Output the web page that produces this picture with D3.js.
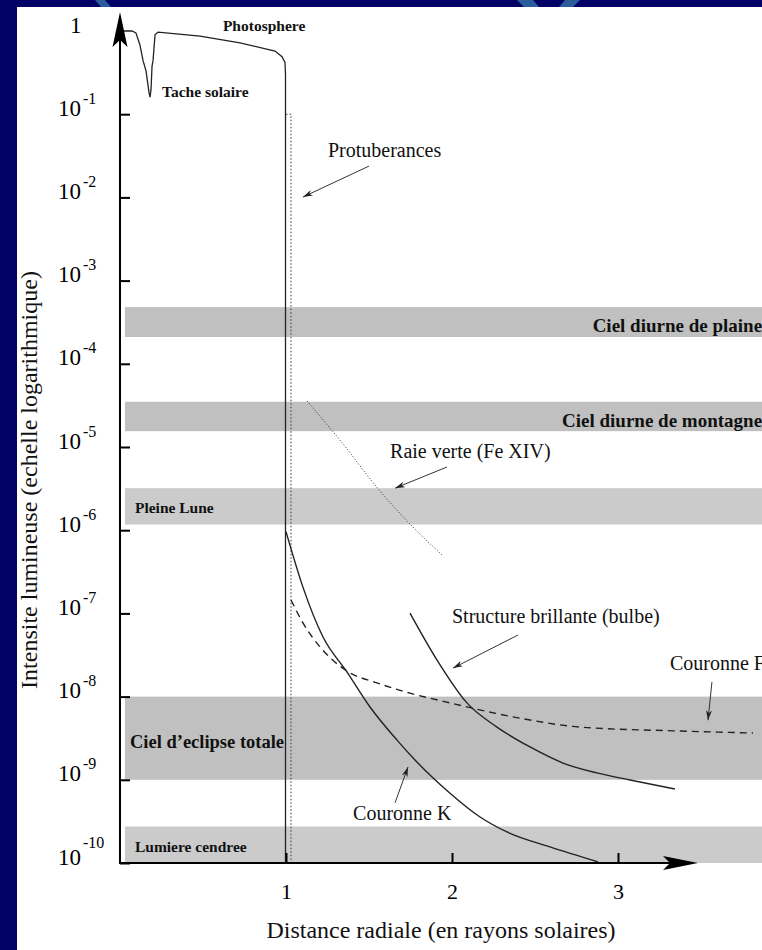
<!DOCTYPE html>
<html>
<head>
<meta charset="utf-8">
<script src="https://cdn.jsdelivr.net/npm/d3@7"></script>
<style>
  body { margin: 0; background: #020266; }
  svg { display: block; }
  text { font-family: "Liberation Serif", "Times New Roman", serif; }
</style>
</head>
<body>
<div id="container"></div>
<script>
/* CONSTANTS AND GLOBALS */
const width = 762,
  height = 950;

/* DATA : x en rayons solaires, y en intensite relative */
const photosphere = [[0, 1], [0.072, 1], [0.096, 0.95], [0.12, 0.68], [0.139, 0.44], [0.157, 0.33],
  [0.175, 0.18], [0.181, 0.16], [0.187, 0.2], [0.193, 0.38], [0.199, 0.44], [0.211, 0.9],
  [0.229, 0.97], [0.482, 0.87], [0.723, 0.72], [0.934, 0.575], [0.976, 0.49], [0.994, 0.42],
  [0.997, 0.3], [0.997, 1e-10]];
const protuberances = [[1.0, 0.1], [1.03, 0.1], [1.03, 1e-10]];
const raieVerte = [[1.127, 3.57e-5], [1.325, 1.21e-5], [1.566, 2.96e-6], [1.765, 1.09e-6], [1.94, 5.04e-7]];
const couronneK = [[1.0, 9.6e-7], [1.102, 2.07e-7], [1.223, 5.2e-8], [1.367, 1.98e-8], [1.506, 7.5e-9],
  [1.669, 3.0e-9], [1.777, 1.73e-9], [1.988, 6.9e-10], [2.169, 3.57e-10], [2.331, 2.36e-10],
  [2.59, 1.56e-10], [2.88, 1.03e-10]];
const couronneF = [[1.03, 1.45e-7], [1.102, 7.7e-8], [1.205, 3.95e-8], [1.367, 2.03e-8], [1.548, 1.46e-8],
  [1.747, 1.1e-8], [1.988, 8.4e-9], [2.41, 5.5e-9], [2.771, 4.3e-9], [3.373, 3.86e-9], [3.813, 3.65e-9]];
const bulbe = [[1.747, 1.01e-7], [1.91, 2.75e-8], [2.09, 8.4e-9], [2.271, 4.3e-9], [2.47, 2.48e-9],
  [2.669, 1.59e-9], [2.873, 1.21e-9], [3.072, 9.95e-10], [3.343, 7.75e-10]];

const bandNames = ['Ciel diurne de plaine', 'Ciel diurne de montagne', 'Pleine Lune', 'Ciel d\u2019eclipse totale', 'Lumiere cendree'];
const bandLow = [2.1e-4, 1.55e-5, 1.17e-6, 1e-9, 1e-10];
const bandHigh = [4.8e-4, 3.5e-5, 3.2e-6, 1e-8, 2.75e-10];
const bandLabelY = [2.41e-4, 1.74e-5, 1.61e-6, 2.41e-9, 1.36e-10];
const bandStart = 0.03, bandEnd = 3.95;

const yTicks = [1, 1e-1, 1e-2, 1e-3, 1e-4, 1e-5, 1e-6, 1e-7, 1e-8, 1e-9, 1e-10];
const xTicks = [1, 2, 3];

const notes = [
  { text: 'Protuberances', at: [1.253, 0.0306], from: [1.5, 0.0238], to: [1.102, 0.0101] },
  { text: 'Raie verte (Fe XIV)', at: [1.627, 7.4e-6], from: [1.97, 5.75e-6], to: [1.657, 3.2e-6] },
  { text: 'Structure brillante (bulbe)', at: [2.0, 7.7e-8], from: [2.398, 5.5e-8], to: [2.006, 2.2e-8] },
  { text: 'Couronne F', at: [3.313, 2.09e-8], from: [3.566, 1.5e-8], to: [3.542, 5.2e-9] },
  { text: 'Couronne K', at: [1.404, 3.3e-10], from: [1.657, 5.3e-10], to: [1.735, 1.43e-9] }
];
const boldNotes = [
  { text: 'Photosphere', at: [0.62, 0.99] },
  { text: 'Tache solaire', at: [0.253, 0.161] }
];

// SCALES
const x = d3.scaleLinear().domain([0, 3]).range([120, 618]);
const y = d3.scaleLog().domain([1e-10, 1]).range([863, 31]);

// CREATE SVG ELEMENT
const svg = d3.select('#container').append('svg')
  .attr('width', width)
  .attr('height', height);

// slide background
svg.append('rect').attr('width', width).attr('height', height).attr('fill', '#020266');
svg.append('path').attr('d', 'M95,0L105,0L112,8L102,8Z').attr('fill', '#2a5c9c');
svg.append('path').attr('d', 'M517,0L533,0L540,8L525,8Z').attr('fill', '#2a5c9c');
svg.append('path').attr('d', 'M565,0L580,0L572,8L558,8Z').attr('fill', '#2a5c9c');
svg.append('rect').attr('x', 17).attr('y', 7).attr('width', width - 17).attr('height', height - 7).attr('fill', '#fff');

// BANDS
const bandShade = ['#c0c0c0', '#c0c0c0', '#cbcbcb', '#c0c0c0', '#cbcbcb'];
const bandFont = [19, 19, 15.5, 18.5, 15.5];
svg.selectAll('.band')
  .data(bandNames)
  .join('rect')
  .attr('class', 'band')
  .attr('x', x(bandStart))
  .attr('width', x(bandEnd) - x(bandStart))
  .attr('y', (d, i) => y(bandHigh[i]))
  .attr('height', (d, i) => y(bandLow[i]) - y(bandHigh[i]))
  .attr('fill', (d, i) => bandShade[i]);

svg.selectAll('.bandLabel')
  .data(bandNames)
  .join('text')
  .attr('class', 'bandLabel')
  .attr('x', (d, i) => i < 2 ? x(3.868) : x(i === 3 ? 0.06 : 0.09))
  .attr('y', (d, i) => y(bandLabelY[i]))
  .attr('text-anchor', (d, i) => i < 2 ? 'end' : 'start')
  .attr('font-weight', 'bold')
  .attr('font-size', (d, i) => bandFont[i])
  .attr('fill', '#111')
  .text(d => d);

// LINES
const line = d3.line().x(d => x(d[0])).y(d => y(d[1]));
const smooth = d3.line().x(d => x(d[0])).y(d => y(d[1])).curve(d3.curveMonotoneX);

svg.append('path').attr('d', line(photosphere))
  .attr('fill', 'none').attr('stroke', '#222').attr('stroke-width', 1.3);
svg.append('path').attr('d', line(protuberances))
  .attr('fill', 'none').attr('stroke', '#444').attr('stroke-width', 1.1).attr('stroke-dasharray', '1.5,2');
svg.append('path').attr('d', smooth(raieVerte))
  .attr('fill', 'none').attr('stroke', '#333').attr('stroke-width', 1).attr('stroke-dasharray', '1,2');
svg.append('path').attr('d', smooth(couronneK))
  .attr('fill', 'none').attr('stroke', '#222').attr('stroke-width', 1.4);
svg.append('path').attr('d', smooth(couronneF))
  .attr('fill', 'none').attr('stroke', '#222').attr('stroke-width', 1.4).attr('stroke-dasharray', '7,5');
svg.append('path').attr('d', smooth(bulbe))
  .attr('fill', 'none').attr('stroke', '#222').attr('stroke-width', 1.4);

// AXES
const yAxis = d3.axisLeft(y)
  .tickValues(yTicks)
  .tickSizeInner(-10)
  .tickSizeOuter(0)
  .tickPadding(0)
  .tickFormat(d => d === 1 ? '1' : '10');
const gy = svg.append('g').attr('transform', `translate(${x(0)},0)`).call(yAxis);
gy.select('.domain').remove();
gy.selectAll('.tick line').attr('stroke', '#000').attr('stroke-width', 2);
gy.selectAll('.tick').filter(d => d === 1).select('line').remove();
gy.selectAll('.tick text')
  .attr('text-anchor', 'start')
  .attr('x', d => d === 1 ? -50 : -62)
  .attr('dy', '0.05em')
  .attr('font-size', 23)
  .attr('fill', '#000')
  .each(function (d) {
    if (d !== 1) {
      d3.select(this).append('tspan')
        .attr('dx', 2)
        .attr('dy', d === 1e-10 ? -17 : -12)
        .attr('font-size', 16)
        .text(Math.round(Math.log10(d)));
    }
  });

const xAxis = d3.axisBottom(x)
  .tickValues(xTicks)
  .tickSizeInner(-10)
  .tickSizeOuter(0)
  .tickPadding(20)
  .tickFormat(d3.format('d'));
const gx = svg.append('g').attr('transform', `translate(0,${y(1e-10)})`).call(xAxis);
gx.select('.domain').remove();
gx.selectAll('.tick line').attr('stroke', '#000').attr('stroke-width', 2);
gx.selectAll('.tick text').attr('font-size', 22).attr('fill', '#000');

// axis lines with arrow heads
const x0 = x(0), y0 = y(1e-10), yTop = y(1) - 19, xEnd = x(3) + 80;
svg.append('line').attr('x1', x0).attr('y1', y0 + 1).attr('x2', x0).attr('y2', yTop + 28)
  .attr('stroke', '#000').attr('stroke-width', 2);
svg.append('path')
  .attr('d', `M${x0},${yTop}L${x0 + 7.5},${yTop + 35}L${x0},${yTop + 28}L${x0 - 7.5},${yTop + 35}Z`)
  .attr('fill', '#000');
svg.append('line').attr('x1', x0 - 1).attr('y1', y0).attr('x2', xEnd - 28).attr('y2', y0)
  .attr('stroke', '#000').attr('stroke-width', 2);
svg.append('path')
  .attr('d', `M${xEnd},${y0}L${xEnd - 35},${y0 - 7}L${xEnd - 28},${y0}L${xEnd - 35},${y0 + 7}Z`)
  .attr('fill', '#000');

// ANNOTATIONS
svg.append('defs').append('marker')
  .attr('id', 'head')
  .attr('viewBox', '0 0 10 6')
  .attr('refX', 10).attr('refY', 3)
  .attr('markerWidth', 10).attr('markerHeight', 6)
  .attr('markerUnits', 'userSpaceOnUse')
  .attr('orient', 'auto')
  .append('path').attr('d', 'M0,0L10,3L0,6L3,3Z').attr('fill', '#222');

svg.selectAll('.noteArrow')
  .data(notes)
  .join('line')
  .attr('class', 'noteArrow')
  .attr('x1', d => x(d.from[0])).attr('y1', d => y(d.from[1]))
  .attr('x2', d => x(d.to[0])).attr('y2', d => y(d.to[1]))
  .attr('stroke', '#333').attr('stroke-width', 1)
  .attr('marker-end', 'url(#head)');

svg.selectAll('.note')
  .data(notes)
  .join('text')
  .attr('class', 'note')
  .attr('x', d => x(d.at[0])).attr('y', d => y(d.at[1]))
  .attr('font-size', 20)
  .attr('fill', '#111')
  .text(d => d.text);

svg.selectAll('.boldNote')
  .data(boldNotes)
  .join('text')
  .attr('class', 'boldNote')
  .attr('x', d => x(d.at[0])).attr('y', d => y(d.at[1]))
  .attr('font-size', 15.5)
  .attr('font-weight', 'bold')
  .attr('fill', '#111')
  .text(d => d.text);

// AXIS TITLES
svg.append('text')
  .attr('x', 441).attr('y', 938)
  .attr('text-anchor', 'middle')
  .attr('font-size', 24)
  .attr('fill', '#111')
  .text('Distance radiale (en rayons solaires)');
svg.append('text')
  .attr('transform', 'translate(37,480) rotate(-90)')
  .attr('text-anchor', 'middle')
  .attr('font-size', 24)
  .attr('fill', '#111')
  .text('Intensite lumineuse (echelle logarithmique)');
</script>
</body>
</html>
